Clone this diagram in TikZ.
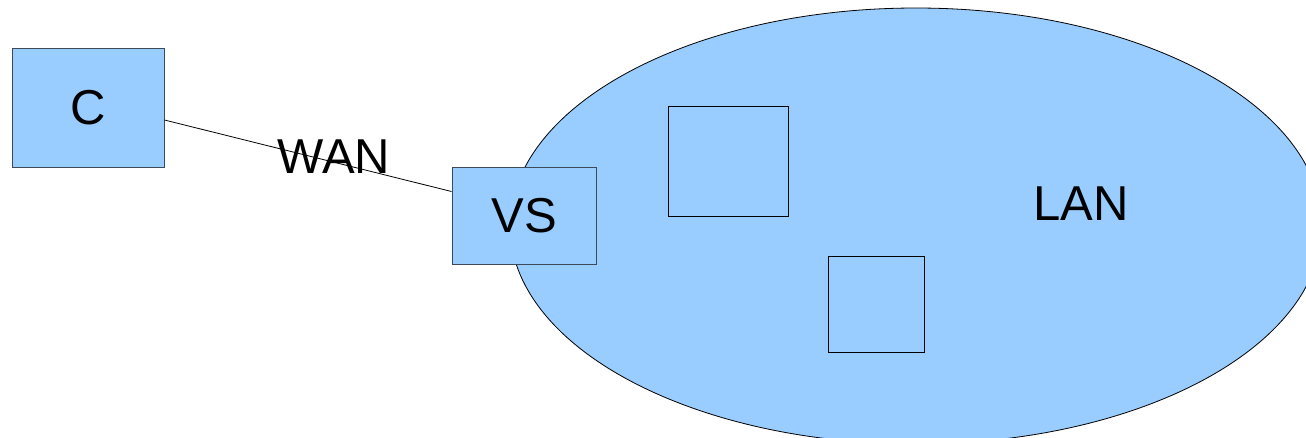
\documentclass[tikz,border=0pt]{standalone}
\usepackage{fontspec}
\setmainfont{Liberation Sans}
\usetikzlibrary{shapes.geometric}
\definecolor{boxfill}{HTML}{99CCFF}
\definecolor{boxline}{HTML}{3C4A5A}
\begin{document}
\begin{tikzpicture}[x=1pt,y=-1pt,
  box/.style={draw=boxline,fill=boxfill,line width=1pt,inner sep=0pt,rectangle,font=\fontsize{49}{50}\selectfont},
  plainsq/.style={draw=black,line width=0.8pt,inner sep=0pt,rectangle},
  lbl/.style={inner sep=0pt,font=\fontsize{49}{50}\selectfont}]
\useasboundingbox (0,0) rectangle (1306,437);
\begin{scope}
\clip (0,0) rectangle (1306,437);
\node[ellipse,draw=black,line width=0.8pt,fill=boxfill,minimum width=812pt,minimum height=436pt,inner sep=0pt] (lan) at (916,226) {};
\end{scope}
\node[plainsq,minimum width=120pt,minimum height=110pt] (s1) at (728,161) {};
\node[plainsq,minimum width=96pt,minimum height=96pt] (s2) at (876,304) {};
\node[lbl] (lant) at (1081,204) {LAN};
\node[box,minimum width=152pt,minimum height=119pt] (c) at (88,107.5) {C};
\node[box,minimum width=144pt,minimum height=97pt] (vs) at (524,215.5) {VS};
\draw[line width=0.8pt] ([yshift=-12.5pt]c.east) -- ([yshift=24pt]vs.west);
\node[lbl] (wan) at (334,157) {WAN};
\end{tikzpicture}
\end{document}
